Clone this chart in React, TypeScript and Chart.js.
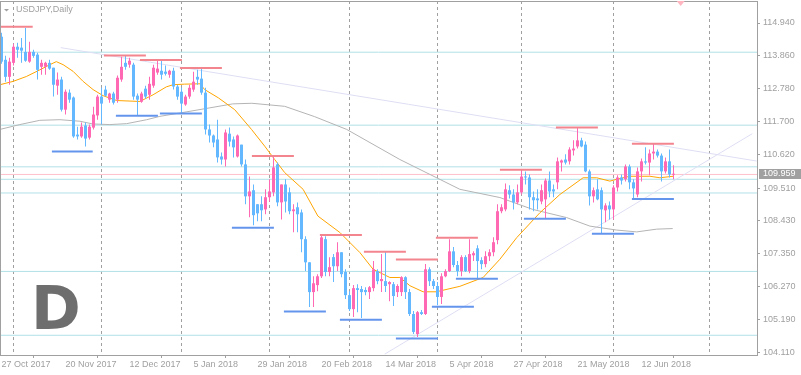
import React, { useEffect, useRef } from 'react';
import { Chart, registerables } from 'chart.js';

Chart.register(...registerables);

// ---------- DATA ----------
const SYMBOL_TITLE = 'USDJPY,Daily';
const PERIOD_LETTER = 'D';

const OPEN = [
  114.49, 113.73, 113.17, 113.63, 114.16, 114.13, 113.99, 113.67, 113.99, 113.90,
  113.50, 113.50, 113.63, 113.47, 112.88, 113.08, 112.09, 112.65, 112.49, 111.27,
  111.21, 111.57, 111.17, 111.50, 111.90, 112.52, 112.75, 112.42, 112.62, 112.42,
  113.08, 113.63, 113.57, 113.57, 112.55, 112.35, 112.78, 112.58, 112.88, 113.31,
  113.37, 113.34, 113.24, 113.37, 112.85, 112.68, 112.26, 112.52, 112.75, 113.17,
  113.11, 112.65, 111.44, 111.24, 111.11, 110.55, 110.45, 111.30, 111.11, 110.55,
  110.94, 110.29, 109.24, 109.44, 108.98, 108.98, 108.81, 109.21, 109.37, 110.29,
  109.04, 109.63, 109.37, 108.75, 108.88, 108.71, 107.83, 107.07, 106.09, 106.32,
  106.61, 107.83, 106.75, 107.24, 106.94, 107.40, 106.75, 105.99, 105.53, 106.22,
  106.19, 106.16, 106.09, 106.22, 106.78, 106.45, 106.45, 106.35, 106.35, 106.09,
  106.09, 106.58, 106.09, 105.37, 104.71, 105.43, 105.37, 106.84, 106.45, 106.29,
  105.93, 106.61, 106.78, 107.43, 106.98, 106.78, 107.24, 106.78, 107.30, 107.53,
  107.14, 107.01, 107.27, 107.40, 107.80, 108.75, 108.81, 109.44, 109.30, 109.04,
  109.37, 109.89, 109.86, 109.21, 109.17, 109.07, 109.14, 109.76, 109.47, 109.70,
  110.35, 110.45, 110.39, 110.75, 110.88, 111.08, 110.94, 110.06, 109.24, 109.47,
  109.44, 108.78, 108.94, 108.81, 109.53, 109.86, 109.80, 110.22, 109.70, 109.30,
  110.06, 110.39, 110.35, 110.65, 110.71, 110.58, 110.06, 110.39, 109.95,
];
const HIGH = [
  114.62, 113.86, 113.80, 114.26, 114.29, 114.45, 114.78, 114.32, 114.06, 113.96,
  113.73, 113.67, 113.73, 113.47, 113.31, 113.17, 112.75, 112.75, 112.52, 111.53,
  111.67, 111.67, 111.60, 112.19, 112.58, 112.81, 112.88, 112.65, 112.68, 113.21,
  113.83, 113.86, 113.80, 113.63, 112.62, 112.68, 112.88, 113.17, 113.57, 113.70,
  113.73, 113.54, 113.40, 113.47, 112.91, 112.81, 112.58, 112.91, 113.34, 113.40,
  113.47, 112.81, 111.60, 111.27, 111.76, 110.68, 111.44, 111.50, 111.21, 111.27,
  110.94, 110.45, 109.89, 109.63, 108.98, 109.24, 109.47, 109.80, 110.55, 110.35,
  109.63, 109.80, 109.53, 108.98, 109.04, 108.81, 107.93, 107.07, 106.61, 106.68,
  107.99, 107.93, 107.24, 107.34, 107.73, 107.40, 106.84, 106.12, 106.32, 106.35,
  106.29, 106.25, 106.29, 107.11, 106.84, 107.34, 107.43, 106.45, 106.42, 106.35,
  106.61, 106.61, 106.19, 105.47, 105.47, 105.50, 107.01, 106.91, 106.52, 106.42,
  106.71, 106.84, 107.83, 107.57, 107.11, 107.30, 107.30, 107.83, 107.43, 107.63,
  107.24, 107.43, 107.50, 107.89, 108.98, 108.98, 109.66, 109.60, 109.47, 109.63,
  110.12, 110.06, 109.96, 109.40, 109.47, 109.63, 109.83, 110.06, 109.63, 110.52,
  110.45, 110.62, 110.85, 111.08, 111.50, 111.17, 111.04, 110.12, 109.53, 109.80,
  109.53, 109.01, 109.07, 109.60, 109.93, 109.96, 110.29, 110.29, 109.80, 110.19,
  110.48, 110.85, 110.78, 110.98, 110.78, 110.65, 110.52, 110.78, 110.26,
];
const LOW = [
  113.60, 113.01, 112.91, 113.54, 113.80, 113.63, 113.67, 113.63, 113.80, 113.08,
  113.24, 113.24, 113.40, 112.52, 112.58, 112.03, 111.93, 112.32, 111.17, 111.11,
  111.17, 110.88, 111.11, 111.44, 111.76, 111.60, 112.52, 112.32, 112.26, 112.32,
  113.01, 113.40, 113.47, 112.42, 111.90, 112.32, 112.45, 112.42, 112.81, 113.24,
  113.08, 113.21, 113.14, 112.75, 112.42, 111.96, 112.22, 112.45, 112.68, 112.91,
  112.58, 111.27, 111.01, 110.85, 110.35, 110.29, 110.22, 110.88, 110.52, 110.52,
  110.22, 108.98, 108.55, 108.29, 108.42, 108.42, 108.65, 109.07, 109.24, 108.91,
  108.48, 108.71, 108.65, 108.06, 108.06, 107.40, 106.78, 105.60, 105.60, 106.12,
  106.55, 106.61, 106.61, 106.42, 106.78, 106.58, 105.86, 105.47, 105.27, 105.43,
  105.24, 105.99, 105.86, 106.12, 106.35, 106.09, 106.09, 105.79, 105.63, 105.93,
  105.96, 105.86, 105.30, 104.71, 104.61, 105.34, 105.34, 106.29, 106.19, 105.66,
  105.70, 106.58, 106.75, 106.91, 106.61, 106.61, 106.75, 106.71, 107.11, 106.55,
  106.84, 106.91, 107.11, 107.27, 107.66, 108.68, 108.75, 109.17, 108.81, 108.98,
  109.30, 109.63, 108.81, 108.75, 108.81, 108.98, 108.52, 109.21, 109.21, 109.47,
  110.06, 110.29, 110.29, 110.58, 110.81, 110.85, 110.03, 108.94, 109.04, 109.11,
  108.02, 108.39, 108.48, 108.48, 109.40, 109.63, 109.73, 109.47, 109.17, 109.21,
  109.73, 110.29, 109.93, 110.45, 110.52, 109.73, 109.99, 109.86, 109.80,
];
const CLOSE = [
  113.67, 113.17, 113.67, 114.16, 114.06, 114.03, 113.70, 113.99, 113.86, 113.40,
  113.63, 113.63, 113.44, 112.91, 113.08, 112.09, 112.68, 112.42, 111.21, 111.21,
  111.53, 111.14, 111.53, 111.93, 112.52, 112.29, 112.55, 112.62, 112.32, 113.14,
  113.50, 113.50, 113.70, 112.52, 112.42, 112.62, 112.52, 112.94, 113.47, 113.44,
  113.24, 113.27, 113.37, 112.85, 112.52, 112.29, 112.52, 112.81, 113.01, 113.08,
  112.65, 111.44, 111.24, 111.01, 110.52, 110.45, 111.34, 111.04, 110.85, 111.24,
  110.29, 109.24, 109.40, 108.62, 108.68, 108.78, 109.21, 109.40, 110.19, 109.04,
  109.63, 109.07, 108.75, 108.81, 108.65, 107.83, 107.07, 106.09, 106.38, 106.61,
  107.89, 106.75, 106.91, 106.94, 107.40, 106.68, 105.99, 105.53, 106.22, 106.16,
  106.09, 106.09, 106.25, 106.84, 106.45, 106.52, 106.29, 106.42, 105.96, 106.29,
  106.58, 106.09, 105.37, 104.78, 105.43, 105.37, 106.84, 106.45, 106.29, 105.93,
  106.61, 106.78, 107.43, 106.98, 106.78, 107.24, 106.78, 107.34, 107.37, 107.11,
  107.01, 107.27, 107.40, 107.73, 108.75, 108.88, 109.47, 109.30, 109.04, 109.37,
  109.89, 109.86, 109.21, 109.11, 109.11, 109.44, 109.76, 109.40, 109.40, 110.39,
  110.42, 110.35, 110.78, 110.81, 111.08, 110.88, 110.06, 109.24, 109.44, 109.14,
  108.81, 108.94, 108.81, 109.53, 109.86, 109.76, 110.22, 109.70, 109.50, 110.06,
  110.39, 110.35, 110.65, 110.71, 110.58, 110.06, 110.39, 109.96, 109.96,
];

const BID = 109.959;

// x-axis labels, one every 16 bars starting at bar 0
const X_TICK_LABELS = [
  '27 Oct 2017', '20 Nov 2017', '12 Dec 2017', '5 Jan 2018', '29 Jan 2018', '20 Feb 2018',
  '14 Mar 2018', '5 Apr 2018', '27 Apr 2018', '21 May 2018', '12 Jun 2018',
];
const X_TICK_STEP = 16;
// bars where a new month starts (dashed verticals)
const MONTH_START_BARS = [3, 25, 45, 67, 87, 109, 130, 153, 177];

const Y_TICK_LABELS = [
  '104.110', '105.190', '106.270', '107.350', '108.430', '109.510',
  '110.620', '111.700', '112.780', '113.860', '114.940',
];

// horizontal levels across the whole chart
const LEVELS = [113.98, 111.58, 110.21, 109.80, 109.35, 106.77, 104.67];

// short resistance / support marks: [fromBar, toBar, price]
const RESISTANCE = [
  [-0.5, 7.8, 114.82], [25.6, 36.1, 113.87], [34.6, 45.1, 113.72], [44.6, 55.1, 113.46],
  [62.6, 73.1, 110.57], [79.6, 90.1, 107.97], [90.6, 101.1, 107.42], [98.6, 109.1, 107.16],
  [108.6, 119.1, 107.88], [124.6, 135.1, 110.11], [138.6, 149.1, 111.50], [157.6, 168.1, 110.97],
];
const SUPPORT = [
  [12.6, 22.8, 110.71], [28.6, 39.1, 111.89], [39.6, 50.1, 111.96], [57.6, 68.1, 108.21],
  [70.6, 81.1, 105.45], [84.6, 95.1, 105.18], [98.6, 109.1, 104.56], [107.6, 118.1, 105.61],
  [113.6, 124.1, 106.53], [130.6, 141.1, 108.50], [147.6, 158.1, 108.01], [157.6, 168.1, 109.15],
];

// trend lines: [fromBar, fromPrice, toBar, toPrice]
const TRENDS = [
  [14.8, 114.13, 188.8, 110.40],
  [95.8, 104.05, 187.7, 111.30],
];

// moving averages
const MA_FAST_BAR = [-0.4, 2.9, 6.2, 9.6, 12.1, 13.7, 15.4, 17.9, 20.4, 22.9, 25.4, 28.8, 34.6, 37.9, 41.2, 42.9, 45.8, 49.6, 50.8, 54.2, 58.3, 62.5, 65.8, 68.3, 70.8, 75.4, 79.1, 84.6, 89.6, 92.9, 97.1, 99.6, 102.1, 105.4, 108.7, 114.6, 120.4, 124.6, 128.8, 134.6, 139.6, 145.4, 148.8, 152.1, 153.8, 157.1, 162.1, 164.6, 167.9];
const MA_FAST = [112.91, 113.02, 113.18, 113.40, 113.57, 113.67, 113.57, 113.35, 113.02, 112.75, 112.55, 112.39, 112.36, 112.58, 112.84, 112.91, 112.93, 112.94, 112.75, 112.48, 112.09, 111.44, 110.89, 110.45, 110.02, 109.47, 108.59, 108.05, 107.39, 106.84, 106.57, 106.57, 106.30, 106.10, 106.10, 106.28, 106.57, 107.17, 107.88, 108.70, 109.30, 109.85, 109.85, 109.74, 109.80, 109.90, 109.90, 109.85, 109.90];
const MA_SLOW_BAR = [-0.4, 4.6, 9.6, 14.6, 19.6, 22.8, 27.1, 31.3, 36.3, 39.6, 44.6, 52.1, 57.8, 62.6, 70.8, 78.3, 86.3, 99.6, 114.6, 124.6, 132.8, 141.3, 147.1, 153.8, 158.8, 163.8, 167.8];
const MA_SLOW = [111.44, 111.60, 111.74, 111.76, 111.71, 111.62, 111.60, 111.63, 111.76, 111.87, 111.98, 112.15, 112.28, 112.30, 112.20, 111.86, 111.44, 110.45, 109.47, 109.20, 108.81, 108.54, 108.26, 108.13, 108.07, 108.16, 108.18];

// visible ranges
const X_MIN = -0.375;
const X_MAX = 188.875;
const Y_MIN = 104.021;
const Y_MAX = 115.664;
const ALERT_BAR = 169.8;

// ---------- STYLE ----------
const BULL = '#ff69b4';
const BEAR = '#63b8ff';
const GRAY = '#a0a0a0';
const LEVEL_COLOR = '#b0e0e6';
const BID_COLOR = '#ffc0cb';
const RES_COLOR = '#f3858f';
const SUP_COLOR = '#6495ed';
const TREND_COLOR = '#dedef4';
const FONT = '"Liberation Sans", Arial, sans-serif';

const overlay = {
  id: 'overlay',
  beforeDatasetsDraw(chart: any) {
    const { ctx, chartArea: a, scales } = chart;
    const xs = scales.x;
    ctx.save();
    // big period letter
    ctx.fillStyle = '#6e6e6e';
    ctx.font = 'bold 60px "DejaVu Sans", sans-serif';
    ctx.textBaseline = 'alphabetic';
    ctx.textAlign = 'left';
    ctx.fillText(PERIOD_LETTER, 31, 329);
    // month separators
    ctx.strokeStyle = GRAY;
    ctx.lineWidth = 1;
    ctx.setLineDash([3, 3]);
    for (const b of MONTH_START_BARS) {
      const px = Math.floor(xs.getPixelForValue(b)) + 0.5;
      ctx.beginPath();
      ctx.moveTo(px, a.top);
      ctx.lineTo(px, a.bottom);
      ctx.stroke();
    }
    ctx.restore();
  },
  afterDraw(chart: any) {
    const { ctx, chartArea: a, scales } = chart;
    const ys = scales.y;
    const xs = scales.x;
    ctx.save();
    // frame
    ctx.strokeStyle = GRAY;
    ctx.lineWidth = 1;
    ctx.setLineDash([]);
    ctx.strokeRect(a.left + 0.5, a.top + 0.5, a.right - a.left, a.bottom - a.top);
    // title
    ctx.fillStyle = GRAY;
    ctx.beginPath();
    ctx.moveTo(4, 9);
    ctx.lineTo(9, 9);
    ctx.lineTo(6.5, 11.5);
    ctx.closePath();
    ctx.fill();
    ctx.font = '9px ' + FONT;
    ctx.textBaseline = 'middle';
    ctx.textAlign = 'left';
    ctx.fillText(SYMBOL_TITLE, 16, 10);
    // bid label
    const by = ys.getPixelForValue(BID);
    ctx.fillStyle = '#a0a0a0';
    ctx.fillRect(a.right + 2, Math.round(by) - 5, 42, 10);
    ctx.fillStyle = '#ffffff';
    ctx.fillText(BID.toFixed(3), a.right + 6, Math.round(by));
    // alert marker at top
    const ax = xs.getPixelForValue(ALERT_BAR);
    ctx.fillStyle = '#ffb6c1';
    ctx.beginPath();
    ctx.moveTo(ax - 4, a.top);
    ctx.lineTo(ax + 4, a.top);
    ctx.lineTo(ax, a.top + 5);
    ctx.closePath();
    ctx.fill();
    ctx.restore();
  },
};

function hline(x0: number, x1: number, y: number, color: string, width: number, order: number) {
  return {
    type: 'line',
    data: [{ x: x0, y }, { x: x1, y }],
    borderColor: color,
    borderWidth: width,
    pointRadius: 0,
    order,
  };
}

export default function App() {
  const ref = useRef<HTMLCanvasElement>(null);
  useEffect(() => {
    const idx = OPEN.map((_, i) => i);
    const colors = idx.map((i) => (CLOSE[i] >= OPEN[i] ? BULL : BEAR));
    const datasets: any[] = [];
    LEVELS.forEach((v) => datasets.push(hline(X_MIN, X_MAX, v, LEVEL_COLOR, 1, 30)));
    datasets.push(hline(X_MIN, X_MAX, BID, BID_COLOR, 1, 29));
    TRENDS.forEach(([b0, p0, b1, p1]) =>
      datasets.push({
        type: 'line',
        data: [{ x: b0, y: p0 }, { x: b1, y: p1 }],
        borderColor: TREND_COLOR,
        borderWidth: 1,
        pointRadius: 0,
        order: 28,
      })
    );
    datasets.push({
      type: 'line',
      data: MA_SLOW_BAR.map((x, k) => ({ x, y: MA_SLOW[k] })),
      borderColor: '#b4b4b4',
      borderWidth: 1,
      pointRadius: 0,
      order: 27,
    });
    datasets.push({
      type: 'line',
      data: MA_FAST_BAR.map((x, k) => ({ x, y: MA_FAST[k] })),
      borderColor: '#ffa500',
      borderWidth: 1,
      pointRadius: 0,
      order: 26,
    });
    datasets.push({
      type: 'bar',
      data: idx.map((i) => ({ x: i, y: [LOW[i], HIGH[i]] })),
      backgroundColor: colors,
      borderWidth: 0,
      grouped: false,
      maxBarThickness: 1,
      categoryPercentage: 1,
      barPercentage: 1,
      inflateAmount: 0,
      minBarLength: 1,
      order: 10,
    });
    datasets.push({
      type: 'bar',
      data: idx.map((i) => ({ x: i, y: [OPEN[i], CLOSE[i]] })),
      backgroundColor: colors,
      borderWidth: 0,
      grouped: false,
      maxBarThickness: 3,
      categoryPercentage: 1,
      barPercentage: 1,
      inflateAmount: 0,
      minBarLength: 1,
      order: 9,
    });
    RESISTANCE.forEach(([b0, b1, p]) => datasets.push(hline(b0, b1, p, RES_COLOR, 2, 2)));
    SUPPORT.forEach(([b0, b1, p]) => datasets.push(hline(b0, b1, p, SUP_COLOR, 2, 2)));

    const chart = new Chart(ref.current as HTMLCanvasElement, {
      type: 'bar',
      data: { datasets },
      options: {
        animation: false,
        responsive: false,
        maintainAspectRatio: false,
        devicePixelRatio: 1,
        events: [],
        layout: { padding: { top: 1, left: 0, right: 0, bottom: 0 } },
        plugins: { legend: { display: false }, tooltip: { enabled: false }, title: { display: false } },
        scales: {
          x: {
            type: 'linear',
            min: X_MIN,
            max: X_MAX,
            offset: false,
            afterBuildTicks: (s: any) => {
              s.ticks = X_TICK_LABELS.map((_, k) => ({ value: k * X_TICK_STEP }));
            },
            afterFit: (s: any) => {
              s.height = 20;
              s.paddingLeft = 0;
              s.paddingRight = 0;
            },
            grid: { display: true, drawOnChartArea: false, drawTicks: true, tickLength: 3, color: GRAY, tickColor: GRAY },
            border: { display: false },
            ticks: {
              autoSkip: false,
              maxRotation: 0,
              minRotation: 0,
              align: 'start',
              padding: 1,
              color: GRAY,
              font: { family: FONT, size: 9 },
              callback: (_v: any, k: number) => X_TICK_LABELS[k],
            },
          },
          y: {
            type: 'linear',
            position: 'right',
            min: Y_MIN,
            max: Y_MAX,
            afterBuildTicks: (s: any) => {
              s.ticks = Y_TICK_LABELS.map((t) => ({ value: Number(t) }));
            },
            afterFit: (s: any) => {
              s.width = 44;
              s.paddingTop = 0;
              s.paddingBottom = 0;
            },
            grid: { display: true, drawOnChartArea: false, drawTicks: true, tickLength: 3, color: GRAY, tickColor: GRAY },
            border: { display: false },
            ticks: {
              autoSkip: false,
              padding: 3,
              color: GRAY,
              font: { family: FONT, size: 9 },
              callback: (_v: any, k: number) => Y_TICK_LABELS[k],
            },
          },
        },
      } as any,
      plugins: [overlay],
    } as any);
    return () => chart.destroy();
  }, []);
  return (
    <div style={{ position: 'absolute', left: 0, top: 0, width: 801, height: 375, background: '#ffffff' }}>
      <canvas ref={ref} width={801} height={375} style={{ display: 'block', width: 801, height: 375 }} />
    </div>
  );
}
